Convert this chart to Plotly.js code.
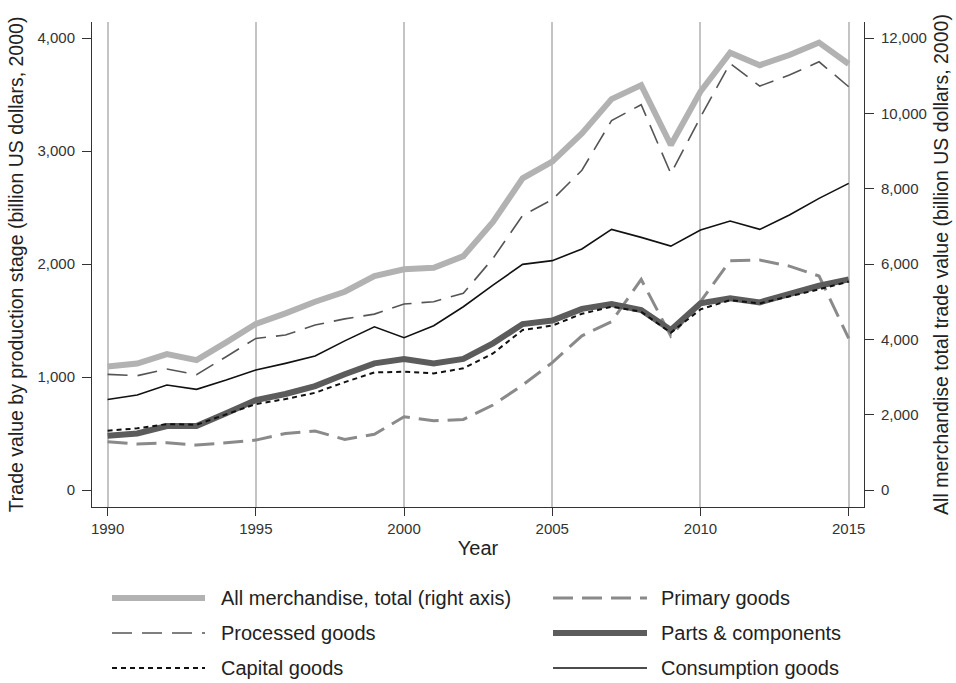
<!DOCTYPE html>
<html>
<head>
<meta charset="utf-8">
<script src="https://cdn.plot.ly/plotly-3.0.1.min.js"></script>
<style>
  html, body { margin: 0; padding: 0; background: #fff; }
  #chart { width: 956px; height: 683px; }
</style>
</head>
<body>
<div id="chart"></div>
<script>
// Years of observation
const years = [1990, 1991, 1992, 1993, 1994, 1995, 1996, 1997, 1998, 1999,
               2000, 2001, 2002, 2003, 2004, 2005, 2006, 2007, 2008, 2009,
               2010, 2011, 2012, 2013, 2014, 2015];

// All merchandise, total (right axis, billion US dollars, 2000)
const allMerchandise = [3280, 3360, 3610, 3450, 3920, 4410, 4690, 5000, 5265, 5680,
                        5860, 5900, 6210, 7120, 8275, 8720, 9470, 10380, 10750, 9160,
                        10580, 11610, 11280, 11550, 11880, 11310];

// Trade by production stage (left axis, billion US dollars, 2000)
const primaryGoods = [428, 407, 419, 398, 419, 442, 501, 522, 448, 493,
                      649, 613, 625, 752, 929, 1128, 1365, 1490, 1864, 1363,
                      1667, 2029, 2035, 1982, 1894, 1342];
const processedGoods = [1024, 1012, 1071, 1021, 1180, 1342, 1372, 1460, 1515, 1557,
                        1646, 1667, 1741, 2050, 2430, 2570, 2830, 3270, 3410, 2800,
                        3300, 3776, 3575, 3673, 3790, 3569];
const partsComponents = [481, 501, 566, 566, 679, 796, 850, 920, 1025, 1121,
                         1159, 1121, 1160, 1298, 1469, 1500, 1603, 1645, 1593, 1416,
                         1652, 1696, 1661, 1735, 1808, 1864];
const capitalGoods = [525, 546, 584, 578, 670, 761, 805, 861, 955, 1041,
                      1047, 1032, 1077, 1209, 1416, 1455, 1560, 1622, 1578, 1392,
                      1599, 1681, 1652, 1711, 1776, 1844];
const consumptionGoods = [802, 841, 929, 891, 973, 1062, 1121, 1186, 1320, 1445,
                          1348, 1454, 1622, 1814, 1997, 2030, 2133, 2307, 2236, 2159,
                          2301, 2381, 2307, 2434, 2581, 2714];

// Tick values and labels
const xTicks = [1990, 1995, 2000, 2005, 2010, 2015];
const leftTicks = [0, 1000, 2000, 3000, 4000];
const rightTicks = [0, 2000, 4000, 6000, 8000, 10000, 12000];

// Series names shown in the key
const names = {
  all: 'All merchandise, total (right axis)',
  primary: 'Primary goods',
  processed: 'Processed goods',
  parts: 'Parts & components',
  capital: 'Capital goods',
  consumption: 'Consumption goods'
};

// Line styles
const styles = {
  all:         { color: '#b2b2b2', width: 6, dash: 'solid' },
  primary:     { color: '#8a8a8a', width: 3, dash: '20px,9px' },
  processed:   { color: '#555555', width: 1.6, dash: '20px,10px' },
  parts:       { color: '#5c5c5c', width: 6, dash: 'solid' },
  capital:     { color: '#111111', width: 2, dash: '5px,4px' },
  consumption: { color: '#111111', width: 1.6, dash: 'solid' }
};

function series(key, values, axis) {
  return {
    type: 'scatter', mode: 'lines', name: names[key],
    x: years, y: values, yaxis: axis,
    line: { color: styles[key].color, width: styles[key].width, dash: styles[key].dash },
    showlegend: false, hoverinfo: 'x+y+name'
  };
}

const traces = [
  series('all', allMerchandise, 'y2'),
  series('primary', primaryGoods, 'y'),
  series('parts', partsComponents, 'y'),
  series('processed', processedGoods, 'y'),
  series('capital', capitalGoods, 'y'),
  series('consumption', consumptionGoods, 'y')
];

// Key below the plot: two columns, three rows
const keyRows = [['all', 'primary'], ['processed', 'parts'], ['capital', 'consumption']];
const plotLeft = 92, plotTop = 22, plotW = 772, plotH = 485;
const px = v => (v - plotLeft) / plotW;
const py = v => (plotTop + plotH - v) / plotH;
const keyRowY = [598, 633, 668];
const keyCols = [{ x0: 112, x1: 205, tx: 219 }, { x0: 553, x1: 647, tx: 659 }];
const shapes = [];
const annotations = [];
keyRows.forEach((row, r) => {
  row.forEach((key, c) => {
    const col = keyCols[c];
    shapes.push({
      type: 'line', xref: 'paper', yref: 'paper',
      x0: px(col.x0), x1: px(col.x1), y0: py(keyRowY[r]), y1: py(keyRowY[r]),
      line: { color: styles[key].color, width: styles[key].width, dash: styles[key].dash }
    });
    annotations.push({
      xref: 'paper', yref: 'paper', x: px(col.tx), y: py(keyRowY[r]),
      xanchor: 'left', yanchor: 'middle', showarrow: false,
      text: names[key], font: { size: 20, color: '#222' }
    });
  });
});

const axisFont = { family: 'Liberation Sans, Arial, sans-serif', size: 15, color: '#333' };
const titleFont = { size: 19.5, color: '#222' };

const layout = {
  width: 956, height: 683,
  margin: { l: 92, r: 92, t: 22, b: 176 },
  paper_bgcolor: '#fff', plot_bgcolor: '#fff',
  font: { family: 'Liberation Sans, Arial, sans-serif', color: '#222' },
  xaxis: {
    range: [1989.474, 2015.516],
    tickvals: xTicks, ticktext: xTicks.map(String),
    showgrid: true, gridcolor: '#c4c4c4', gridwidth: 2,
    zeroline: false, showline: true, linecolor: '#333', linewidth: 1,
    ticks: 'outside', ticklen: 8, tickcolor: '#333', tickfont: axisFont,
    title: { text: 'Year', font: { size: 20, color: '#222' }, standoff: 4 }
  },
  yaxis: {
    range: [-150, 4142],
    tickvals: leftTicks, tickformat: ',d',
    showgrid: false, zeroline: false, showline: true, linecolor: '#333', linewidth: 1,
    ticks: 'outside', ticklen: 9, tickcolor: '#333', tickfont: axisFont,
    ticklabelstandoff: 4,
    title: { text: 'Trade value by production stage (billion US dollars, 2000)',
             font: titleFont, standoff: 8 }
  },
  yaxis2: {
    overlaying: 'y', side: 'right',
    range: [-450, 12426],
    tickvals: rightTicks, tickformat: ',d',
    showgrid: false, zeroline: false, showline: true, linecolor: '#333', linewidth: 1,
    ticks: 'outside', ticklen: 9, tickcolor: '#333', tickfont: axisFont,
    ticklabelstandoff: 4,
    title: { text: 'All merchandise total trade value (billion US dollars, 2000)',
             font: titleFont, standoff: 8 }
  },
  shapes: shapes,
  annotations: annotations,
  showlegend: false
};

Plotly.newPlot('chart', traces, layout, { displayModeBar: false, staticPlot: true });
</script>
</body>
</html>
